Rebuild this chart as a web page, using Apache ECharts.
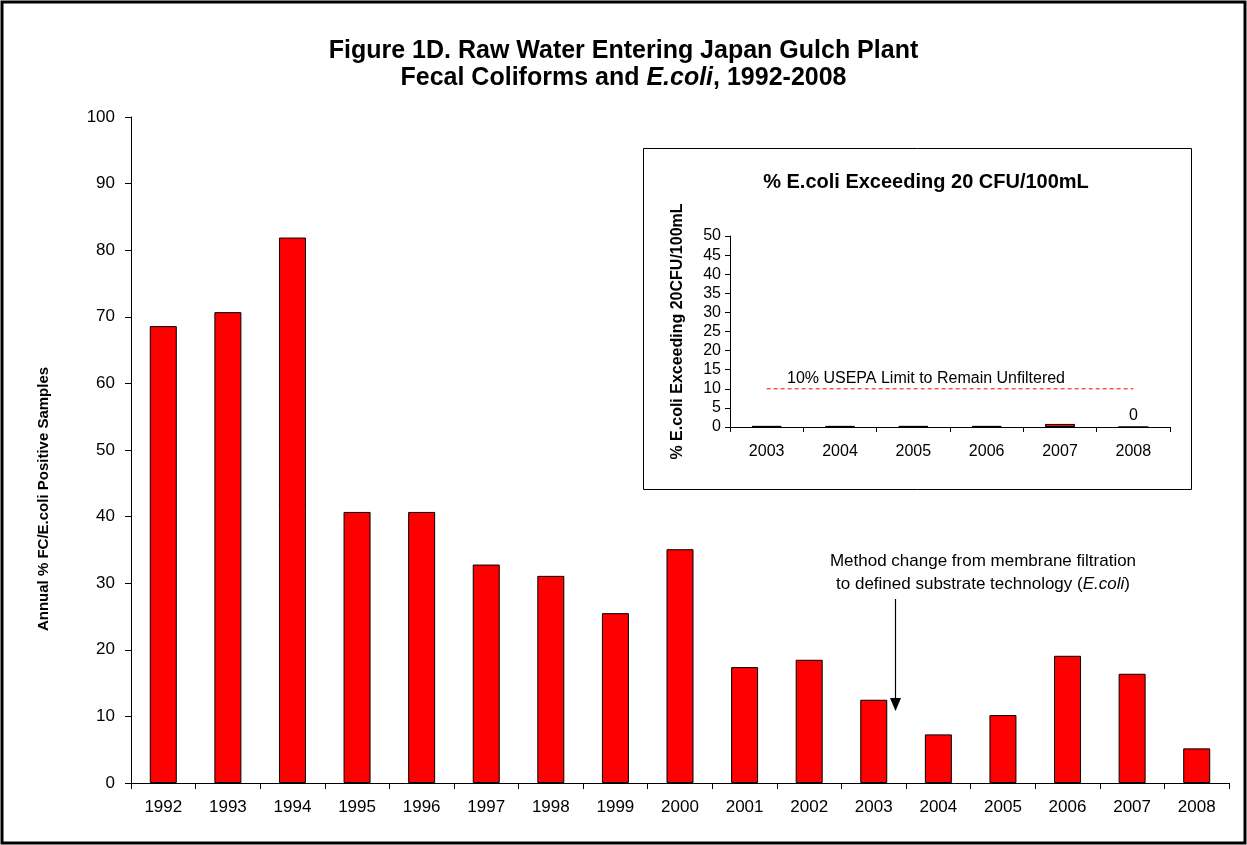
<!DOCTYPE html>
<html>
<head>
<meta charset="utf-8">
<script src="https://cdn.jsdelivr.net/npm/echarts@6/dist/echarts.min.js"></script>
<style>
html,body{margin:0;padding:0;background:#fff;}
#chart{width:1247px;height:845px;}
</style>
</head>
<body>
<div id="chart"></div>
<script>
// ---- data ----
const years = ['1992','1993','1994','1995','1996','1997','1998','1999','2000','2001','2002','2003','2004','2005','2006','2007','2008'];
const pctPositive = [68.6, 70.7, 81.9, 40.7, 40.7, 32.8, 31.1, 25.5, 35.1, 17.4, 18.5, 12.5, 7.3, 10.2, 19.1, 16.4, 5.2];
const insetYears = ['2003','2004','2005','2006','2007','2008'];
const pctExceeding = [0.3, 0.3, 0.3, 0.3, 0.8, 0];
const usepaLimit = 10;
const usepaLabel = '10% USEPA Limit to Remain Unfiltered';
const mainAxis = {min: 0, max: 100, interval: 10};
const insetAxis = {min: 0, max: 50, interval: 5};

const FONT = '"Liberation Sans", Arial, sans-serif';
const chart = echarts.init(document.getElementById('chart'), null, {renderer: 'canvas'});

const insetData = pctExceeding.map((v, i) => i === pctExceeding.length - 1
  ? {value: v, label: {show: true, position: 'top', distance: 3, color: '#000', fontSize: 16, fontFamily: FONT}}
  : v);

// limit line across the inset categories (2003 .. 2008)
const limitData = insetYears.map(() => usepaLimit);

chart.setOption({
  backgroundColor: '#fff',
  animation: false,
  title: [
    {
      text: 'Figure 1D. Raw Water Entering Japan Gulch Plant\nFecal Coliforms and {i|E.coli}, 1992-2008',
      left: 'center', top: 33,
      textStyle: {
        fontFamily: FONT, fontSize: 25, fontWeight: 'bold', color: '#000', lineHeight: 27,
        rich: {i: {fontFamily: FONT, fontSize: 25, fontWeight: 'bold', fontStyle: 'italic', color: '#000'}}
      }
    },
    {
      text: '% E.coli Exceeding 20 CFU/100mL',
      left: 921, top: 167, textAlign: 'center',
      textStyle: {fontFamily: FONT, fontSize: 20, fontWeight: 'bold', color: '#000'}
    }
  ],
  graphic: [
    {type: 'rect', z: -10, shape: {x: 2, y: 2, width: 1243, height: 841},
     style: {fill: 'none', stroke: '#000', lineWidth: 3}},
    {type: 'rect', z: 0, shape: {x: 643.5, y: 148.5, width: 548, height: 341},
     style: {fill: '#fff', stroke: '#000', lineWidth: 1}},
    {type: 'text', z: 10, x: 926, y: 379,
     style: {text: usepaLabel, fill: '#000', font: '16px ' + FONT,
             textAlign: 'center', textVerticalAlign: 'middle'}},
    {type: 'text', z: 10, x: 983, y: 561,
     style: {text: 'Method change from membrane filtration', fill: '#000', font: '17px ' + FONT,
             textAlign: 'center', textVerticalAlign: 'middle'}},
    {type: 'text', z: 10, x: 983, y: 584,
     style: {text: 'to defined substrate technology ({i|E.coli})', fill: '#000', font: '17px ' + FONT,
             textAlign: 'center', textVerticalAlign: 'middle',
             rich: {i: {fontStyle: 'italic', fontSize: 17, fontFamily: FONT, fill: '#000', color: '#000'}}}},
    {type: 'line', z: 10, shape: {x1: 895.5, y1: 599, x2: 895.5, y2: 700},
     style: {stroke: '#000', lineWidth: 1.2}},
    {type: 'polygon', z: 10, shape: {points: [[890, 698], [901, 698], [895.5, 711]]},
     style: {fill: '#000'}}
  ],
  grid: [
    {left: 131, right: 18, top: 117, bottom: 62},
    {left: 730, right: 77, top: 236, bottom: 418}
  ],
  xAxis: [
    {
      gridIndex: 0, type: 'category', data: years, boundaryGap: true,
      axisLine: {lineStyle: {color: '#000', width: 1}},
      axisTick: {show: true, alignWithLabel: false, length: 6, lineStyle: {color: '#000'}},
      axisLabel: {color: '#000', fontSize: 17, fontFamily: FONT, margin: 16}
    },
    {
      gridIndex: 1, type: 'category', data: insetYears, boundaryGap: true,
      axisLine: {lineStyle: {color: '#000', width: 1}},
      axisTick: {show: true, alignWithLabel: false, length: 5, lineStyle: {color: '#000'}},
      axisLabel: {color: '#000', fontSize: 16, fontFamily: FONT, margin: 17}
    }
  ],
  yAxis: [
    {
      gridIndex: 0, type: 'value', min: mainAxis.min, max: mainAxis.max, interval: mainAxis.interval,
      name: 'Annual % FC/E.coli Positive Samples', nameLocation: 'middle', nameGap: 80, nameRotate: 90,
      nameTextStyle: {color: '#000', fontSize: 15, fontWeight: 'bold', fontFamily: FONT, padding: [0, 98, 0, 0]},
      axisLine: {show: true, lineStyle: {color: '#000', width: 1}},
      axisTick: {show: true, inside: false, length: 6, lineStyle: {color: '#000'}},
      axisLabel: {color: '#000', fontSize: 17, fontFamily: FONT, margin: 16},
      splitLine: {show: false}
    },
    {
      gridIndex: 1, type: 'value', min: insetAxis.min, max: insetAxis.max, interval: insetAxis.interval,
      name: '% E.coli Exceeding 20CFU/100mL', nameLocation: 'middle', nameGap: 44, nameRotate: 90,
      nameTextStyle: {color: '#000', fontSize: 16, fontWeight: 'bold', fontFamily: FONT},
      axisLine: {show: true, lineStyle: {color: '#000', width: 1}},
      axisTick: {show: true, length: 5, lineStyle: {color: '#000'}},
      axisLabel: {color: '#000', fontSize: 16, fontFamily: FONT, margin: 9},
      splitLine: {show: false}
    }
  ],
  series: [
    {
      type: 'bar', xAxisIndex: 0, yAxisIndex: 0, data: pctPositive, barWidth: 27,
      itemStyle: {color: '#FF0000', borderColor: '#000', borderWidth: 1}
    },
    {
      type: 'bar', xAxisIndex: 1, yAxisIndex: 1, data: insetData, barWidth: 30, z: 5,
      itemStyle: {color: '#FF0000', borderColor: '#000', borderWidth: 1}
    },
    {
      type: 'line', xAxisIndex: 1, yAxisIndex: 1, data: limitData, z: 6,
      symbol: 'none', silent: true,
      lineStyle: {color: '#FF0000', type: [4, 3], width: 1},
      itemStyle: {color: '#FF0000'}
    }
  ]
});
</script>
</body>
</html>
